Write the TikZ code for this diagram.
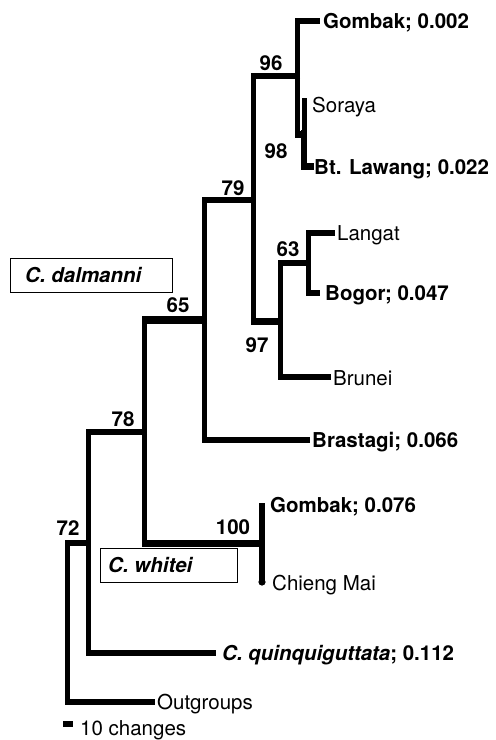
\documentclass[tikz,border=0pt]{standalone}
\usepackage{fontspec}
\setmainfont{TeX Gyre Heros}
\newcommand\treebranch[3][6.5pt]{\draw[br] (#2) -| (#3); \draw[hbr,line width=#1] (#2) -- (#2 -| #3);}
\begin{document}
\begin{tikzpicture}[x=1pt,y=-1pt,
  br/.style={line width=5pt,line cap=rect,line join=miter},
  hbr/.style={line cap=butt,shorten <=-2.5pt,shorten >=-2.5pt},
  vbr/.style={line width=5pt,line cap=butt},
  lab/.style={anchor=base west,inner sep=0pt,font=\fontsize{20.5}{24}\selectfont},
  blab/.style={lab,font=\fontsize{20.5}{24}\selectfont\bfseries},
  sup/.style={anchor=base,inner sep=0pt,font=\fontsize{20.5}{24}\selectfont\bfseries},
  clade/.style={draw,line width=1pt,fill=white,inner sep=0pt,anchor=north west},
  cladetext/.style={anchor=base west,inner sep=0pt,font=\fontsize{20.5}{24}\selectfont\bfseries\itshape}]
\useasboundingbox (0,0) rectangle (496,740);
% tree nodes
\coordinate (root) at (67,620);
\coordinate (nA) at (88,543);
\coordinate (n78) at (144.5,432);
\coordinate (n65) at (204.5,320);
\coordinate (n79) at (253,200);
\coordinate (n96) at (297.5,76);
\coordinate (n96b) at (297.5,138);
\coordinate (n98) at (297.5,134.5);
\coordinate (n98r) at (307,134.5);
\coordinate (n97) at (280,321.5);
\coordinate (n63) at (308,263);
\coordinate (n100) at (262,543);
% tips
\coordinate (tGombakA) at (317,21);
\coordinate (tSorayaTop) at (304.5,98);
\coordinate (tSorayaBot) at (304.5,138);
\coordinate (tLawTop) at (304,130);
\coordinate (tLawCorner) at (304,166.5);
\coordinate (tLawang) at (310,166.5);
\coordinate (tLangat) at (332,233);
\coordinate (tBogor) at (317,293);
\coordinate (tBrunei) at (328,377);
\coordinate (tBrastagi) at (307,440);
\coordinate (tGombakB) at (262,503);
\coordinate (tChieng) at (262,582);
\coordinate (tQuinq) at (213,653);
\coordinate (tOut) at (152,702);
% branches
\treebranch{tGombakA}{n96}
\draw[vbr] (n96) -- (n96b);
\draw[line width=7pt,line cap=butt] (n98) -- (n98r);
\draw[vbr] (tSorayaTop) -- (tSorayaBot);
\draw[line width=6pt,line cap=butt] (tLawTop) -- (tLawCorner);
\draw[line width=7pt,line cap=rect] (tLawCorner) -- (tLawang);
\treebranch{n96}{n79}
\treebranch{n97}{n79}
\treebranch{tLangat}{n63}
\treebranch{tBogor}{n63}
\treebranch{n63}{n97}
\treebranch{tBrunei}{n97}
\treebranch{n79}{n65}
\treebranch{tBrastagi}{n65}
\treebranch[8pt]{n65}{n78}
\treebranch[7pt]{n100}{n78}
\draw[line width=5.5pt,line cap=butt] (tGombakB) -- (tChieng);
\fill (tChieng) circle (3.6);
\treebranch[5.5pt]{n78}{nA}
\treebranch{tQuinq}{nA}
\treebranch[5.5pt]{nA}{root}
\treebranch{tOut}{root}
% tip labels
\node[blab] (lGombakA) at (323,28.5) {Gombak; 0.002};
\node[lab] (lSoraya) at (312,112) {Soraya};
\node[blab] (lLawang) at (314,174) {Bt. Lawang; 0.022};
\node[lab] (lLangat) at (337,240.5) {Langat};
\node[blab] (lBogor) at (325,300.5) {Bogor; 0.047};
\node[lab] (lBrunei) at (333,385) {Brunei};
\node[blab] (lBrastagi) at (312,447.5) {Brastagi; 0.066};
\node[blab] (lGombakB) at (270,512.5) {Gombak; 0.076};
\node[lab] (lChieng) at (272,590.5) {Chieng Mai};
\node[blab] (lQuinq) at (222,660.5) {\itshape C. quinquiguttata\upshape; 0.112};
\node[lab] (lOut) at (157,709.5) {Outgroups};
% support values
\node[sup] (s96) at (271,70.5) {96};
\node[sup] (s98) at (276,158.5) {98};
\node[sup] (s79) at (233,195.5) {79};
\node[sup] (s63) at (288,256.5) {63};
\node[sup] (s97) at (257,352.5) {97};
\node[sup] (s65) at (178,312.5) {65};
\node[sup] (s78) at (123,426.5) {78};
\node[sup] (s100) at (233,534.5) {100};
\node[sup] (s72) at (68,535.5) {72};
% clade boxes
\node[clade,minimum width=162pt,minimum height=34pt] (bDal) at (10,258) {};
\node[cladetext] (tDal) at (25,282.5) {C. dalmanni};
\node[clade,minimum width=137pt,minimum height=34pt] (bWhi) at (100,548) {};
\node[cladetext] (tWhi) at (108,572.5) {C. whitei};
% scale bar
\fill (63,721) rectangle (73,727);
\node[lab] (lScale) at (80,735) {10 changes};
\end{tikzpicture}
\end{document}
